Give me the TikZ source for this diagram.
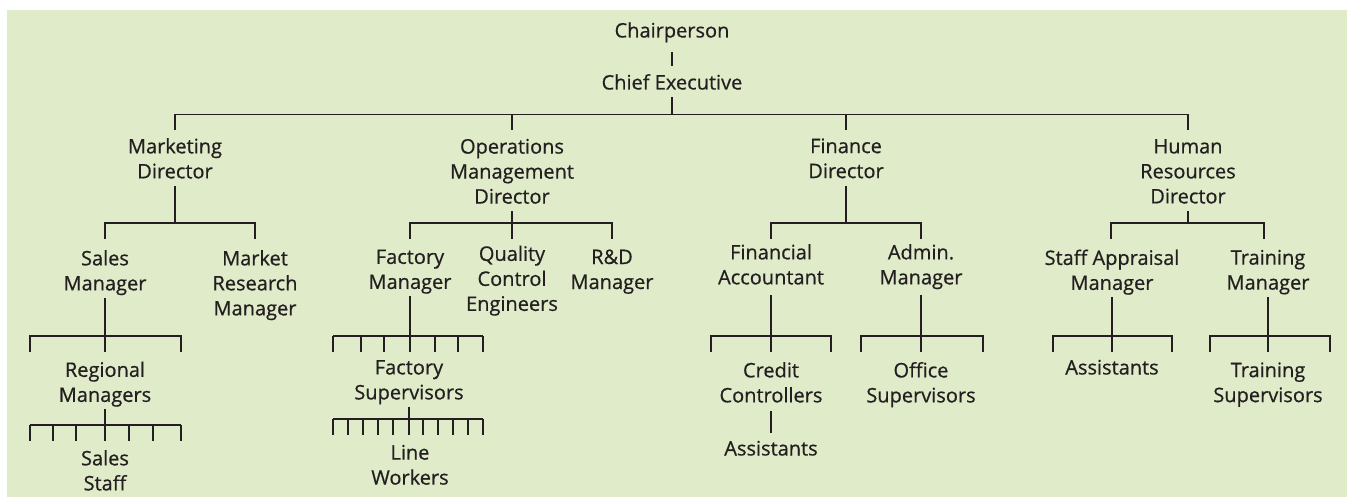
\documentclass[tikz,border=0pt]{standalone}
\usepackage{fontspec}
\setmainfont{Open Sans}
\newfontfamily\lblfont{Open Sans}[FakeBold=0.6]
\definecolor{bg}{HTML}{DFEBC9}
\definecolor{ink}{HTML}{231F20}
\begin{document}
\begin{tikzpicture}[x=1pt,y=-1pt,
  lbl/.style={align=center, inner sep=0pt, outer sep=0pt, text=ink, yshift=-3.5pt,
    font=\lblfont\fontsize{20}{25}\selectfont,
    execute at begin node=\strut, execute at end node=\strut},
  conn/.style={draw=ink, line width=1.1pt}]
\fill[white] (0,0) rectangle (1347,497);
\fill[bg] (7,10) rectangle (1347,497);
\useasboundingbox (0,0) rectangle (1347,497);

% nodes
\node[lbl] (chair) at (672,29) {Chairperson};
\node[lbl] (ceo) at (672,81) {Chief Executive};
\node[lbl] (mkt) at (175,158.5) {Marketing\\Director};
\node[lbl] (ops) at (512,171.5) {Operations\\Management\\Director};
\node[lbl] (fin) at (846,158.5) {Finance\\Director};
\node[lbl] (hr) at (1188,171.5) {Human\\Resources\\Director};

\node[lbl] (sales) at (105,270.5) {Sales\\Manager};
\node[lbl] (mrm) at (255,283) {Market\\Research\\Manager};
\node[lbl] (fac) at (410,269.5) {Factory\\Manager};
\node[lbl] (qc) at (512,278.5) {Quality\\Control\\Engineers};
\node[lbl] (rd) at (612,269.5) {R\&D\\Manager};
\node[lbl] (finacc) at (771,264.5) {Financial\\Accountant};
\node[lbl] (admin) at (921,264.5) {Admin.\\Manager};
\node[lbl] (sam) at (1112,270) {Staff Appraisal\\Manager};
\node[lbl] (trm) at (1268,270) {Training\\Manager};

\node[lbl] (reg) at (105,382) {Regional\\Managers};
\node[lbl] (facsup) at (409,380) {Factory\\Supervisors};
\node[lbl] (credit) at (771,382.5) {Credit\\Controllers};
\node[lbl] (office) at (921,382.5) {Office\\Supervisors};
\node[lbl] (asst2) at (1112,366) {Assistants};
\node[lbl] (trsup) at (1268,382.5) {Training\\Supervisors};

\node[lbl] (salesstaff) at (105,470.5) {Sales\\Staff};
\node[lbl] (lineworkers) at (410,465) {Line\\Workers};
\node[lbl] (asst1) at (771,447) {Assistants};

% bar levels
\coordinate (L1) at (0,114.5); \coordinate (D1) at (0,130);
\coordinate (L2) at (0,223);   \coordinate (D2) at (0,239);
\coordinate (L3) at (0,336);   \coordinate (D3) at (0,352);
\coordinate (L4a) at (0,425);  \coordinate (D4a) at (0,441);
\coordinate (L4b) at (0,419);  \coordinate (D4b) at (0,435);

% top
\draw[conn, shorten <=7pt, shorten >=6pt] (chair) -- (ceo);
\draw[conn] (ceo.south) -- (ceo.south |- L1);
\draw[conn] (mkt.north |- D1) |- (hr.north |- L1) -- (hr.north |- D1);
\draw[conn] (ops.north |- L1) -- (ops.north |- D1);
\draw[conn] (fin.north |- L1) -- (fin.north |- D1);

% level 2
\draw[conn] (mkt.south) -- (mkt.south |- L2);
\draw[conn] (sales.north |- D2) |- (mrm.north |- L2) -- (mrm.north |- D2);
\draw[conn] (ops.south) -- (ops.south |- L2);
\draw[conn] (fac.north |- D2) |- (rd.north |- L2) -- (rd.north |- D2);
\draw[conn] (qc.north |- L2) -- (qc.north |- D2);
\draw[conn] (fin.south) -- (fin.south |- L2);
\draw[conn] (finacc.north |- D2) |- (admin.north |- L2) -- (admin.north |- D2);
\draw[conn] (hr.south) -- (hr.south |- L2);
\draw[conn] ([xshift=-1pt]sam.north |- D2) |- ([xshift=-4pt]trm.north |- L2) -- ([xshift=-4pt]trm.north |- D2);

% level 3 (three-drop bars)
\foreach \n/\a/\b/\s in {sales/-75/76/0, finacc/-60/60/3.5, admin/-60/62/3.5, sam/-59/60/0, trm/-58/62/0}{
  \draw[conn, shorten <=\s pt] (\n.south) -- (\n.south |- L3);
  \draw[conn] ([xshift=\a pt]\n.south |- D3) |- ([xshift=\b pt]\n.south |- L3) -- ([xshift=\b pt]\n.south |- D3);
  \draw[conn] (\n.south |- L3) -- (\n.south |- D3);
}
% factory manager: seven drops
\draw[conn] (fac.south) -- (fac.south |- L3);
\draw[conn] ([xshift=-77pt]fac.south |- L3) -- ([xshift=73pt]fac.south |- L3);
\foreach \dx in {-77,-49,-26,0,25,48,73}
  \draw[conn] ([xshift=\dx pt]fac.south |- L3) -- ([xshift=\dx pt]fac.south |- D3);

% level 4
\draw[conn] (reg.south) -- (reg.south |- L4a);
\draw[conn] ([xshift=-75pt]reg.south |- L4a) -- ([xshift=76pt]reg.south |- L4a);
\foreach \dx in {-75,-52,-29,0,24,48,76}
  \draw[conn] ([xshift=\dx pt]reg.south |- L4a) -- ([xshift=\dx pt]reg.south |- D4a);

\draw[conn] (facsup.south) -- (facsup.south |- L4b);
\draw[conn] ([xshift=-76pt]facsup.south |- L4b) -- ([xshift=74pt]facsup.south |- L4b);
\foreach \dx in {-76,-61,-46,-31,-16,0,14,29,44,59,74}
  \draw[conn] ([xshift=\dx pt]facsup.south |- L4b) -- ([xshift=\dx pt]facsup.south |- D4b);

\draw[conn, shorten <=1.5pt, shorten >=5.5pt] (credit) -- (asst1);
\end{tikzpicture}
\end{document}
